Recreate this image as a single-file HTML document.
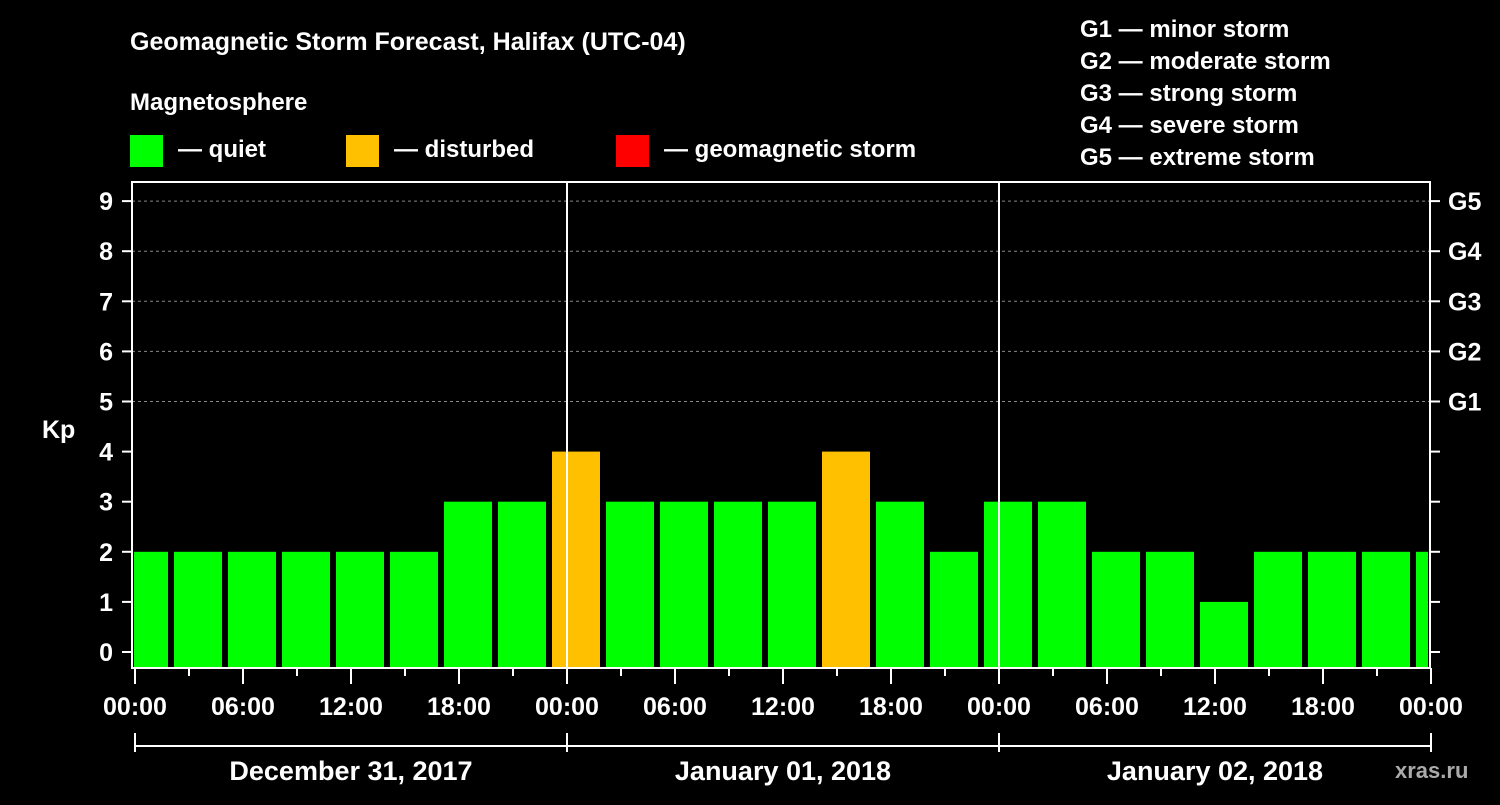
<!DOCTYPE html>
<html><head><meta charset="utf-8"><style>
body{margin:0;background:#000;width:1500px;height:800px;overflow:hidden}
svg text{font-family:"Liberation Sans",sans-serif;font-weight:bold;fill:#fff}
</style></head><body>
<svg id="c" width="1500" height="800">
<text x="130" y="50" font-size="25">Geomagnetic Storm Forecast, Halifax (UTC-04)</text>
<text x="130" y="110" font-size="24">Magnetosphere</text>
<rect x="130" y="135" width="33" height="32" fill="#00ff00"/>
<text x="178" y="157" font-size="24">— quiet</text>
<rect x="346" y="135" width="33" height="32" fill="#ffc000"/>
<text x="394" y="157" font-size="24">— disturbed</text>
<rect x="616" y="135" width="33" height="32" fill="#ff0000"/>
<text x="664" y="157" font-size="24">— geomagnetic storm</text>
<g font-size="24">
<text x="1080" y="37">G1 — minor storm</text>
<text x="1080" y="69">G2 — moderate storm</text>
<text x="1080" y="101">G3 — strong storm</text>
<text x="1080" y="133">G4 — severe storm</text>
<text x="1080" y="165">G5 — extreme storm</text>
</g>
<text x="42" y="438" font-size="25">Kp</text>
<text x="1395" y="778" font-size="22" style="fill:#aaa">xras.ru</text>
<g id="plot"></g>
</svg>
<script>
const values=[2,2,2,2,2,2,3,3,4,3,3,3,3,4,3,2,3,3,2,2,1,2,2,2,2];
const yTicks=[0,1,2,3,4,5,6,7,8,9];
const gLabels=["G1","G2","G3","G4","G5"];
const xLabels=["00:00","06:00","12:00","18:00","00:00","06:00","12:00","18:00","00:00","06:00","12:00","18:00","00:00"];
const days=["December 31, 2017","January 01, 2018","January 02, 2018"];
const X0=135,PXH=18,L=132,R=1430,T=182,B=668;
const xh=h=>X0+h*PXH, y=v=>652-v*50.1;
const g=document.getElementById('plot'),NS='http://www.w3.org/2000/svg';
function mk(t,a,p){const e=document.createElementNS(NS,t);for(const k in a)e.setAttribute(k,a[k]);(p||g).appendChild(e);return e;}
// grid
[5,6,7,8,9].forEach(v=>{const e=mk('line',{x1:L,x2:R,y1:y(v),y2:y(v),stroke:'#888','stroke-dasharray':'3,3'});

});
// bars
values.forEach((v,i)=>{const c=xh(0.5+3*i);let x1=Math.max(c-24,L+2),x2=Math.min(c+24,R-2);
const e=mk('rect',{x:x1,y:y(v),width:x2-x1,height:B-y(v),fill:v>=5?'#ff0000':v>=4?'#ffc000':'#00ff00'});

});
// day lines
[24,48].forEach(h=>{const e=mk('line',{x1:xh(h),x2:xh(h),y1:T,y2:B,stroke:'#fff','stroke-width':2});

});
// frame
const f=mk('rect',{x:L,y:T,width:R-L,height:B-T,fill:'none',stroke:'#fff','stroke-width':2});


// y ticks
yTicks.forEach(v=>{mk('line',{x1:122,x2:L,y1:y(v),y2:y(v),stroke:'#fff','stroke-width':2});
mk('line',{x1:R,x2:1440,y1:y(v),y2:y(v),stroke:'#fff','stroke-width':2});
const t=mk('text',{x:113,y:y(v)+9,'font-size':25,'text-anchor':'end'});t.textContent=v;

});
gLabels.forEach((s,i)=>{const t=mk('text',{x:1448,y:y(5+i)+9,'font-size':25});t.textContent=s;

});
// x ticks
for(let h=0;h<=72;h+=3){mk('line',{x1:xh(h),x2:xh(h),y1:B,y2:B+(h%6==0?16:8),stroke:'#fff','stroke-width':2});}
xLabels.forEach((s,i)=>{const t=mk('text',{x:xh(6*i),y:715,'font-size':25,'text-anchor':'middle'});t.textContent=s;

});
mk('line',{x1:xh(0),x2:xh(72),y1:746,y2:746,stroke:'#fff','stroke-width':2});
[0,24,48,72].forEach(h=>mk('line',{x1:xh(h),x2:xh(h),y1:733,y2:752,stroke:'#fff','stroke-width':2}));
days.forEach((s,i)=>{const t=mk('text',{x:xh(24*i+12),y:780,'font-size':27,'text-anchor':'middle'});t.textContent=s;

});
</script>
</body></html>
